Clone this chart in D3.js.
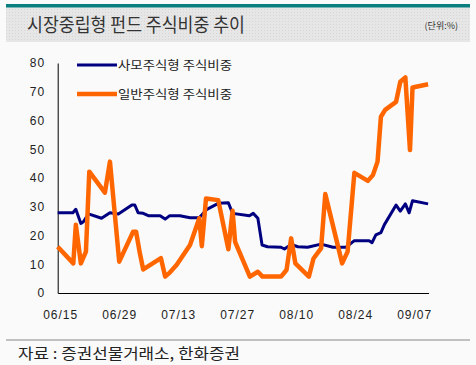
<!DOCTYPE html>
<html>
<head>
<meta charset="utf-8">
<script src="https://cdn.jsdelivr.net/npm/d3@7"></script>
<style>
  body { margin: 0; background: #fafafa; }
  text { font-family: "Noto Sans CJK KR", sans-serif; }
</style>
</head>
<body>
<div id="chart-area"></div>
<script>
// x values are days counted from 06/15
const tickDays = [0, 14, 28, 42, 56, 70, 84];
const tickLabels = ["06/15", "06/29", "07/13", "07/27", "08/10", "08/24", "09/07"];
const yTicks = [0, 10, 20, 30, 40, 50, 60, 70, 80];

// 사모주식형 주식비중
const privateDays = [0, 3.6, 4.3, 5.5, 6.1, 7.3, 10.4, 12.4, 14.4, 17.6, 18.3, 19.1, 20.3, 21.5, 24.3, 25.5, 26.6, 29.0, 31.4, 33.6,
	35.4, 38.1, 40.5, 41.5, 45.5, 46.4, 47.5, 48.5, 49.8, 53.0, 53.8, 55.4, 57.0, 59.3, 62.5, 65.3, 68.4, 70.4, 73.9, 74.6,
	75.5, 76.7, 77.5, 80.3, 81.3, 82.5, 83.4, 84.2, 87.9];
const privateValues = [27.9, 27.9, 29.1, 24.2, 24.8, 27.5, 26.0, 27.9, 27.5, 30.6, 30.6, 27.9, 27.7, 26.9, 26.9, 25.7, 26.9, 26.9, 26.2, 26.2,
	29.1, 31.2, 31.4, 27.7, 26.9, 27.7, 26.0, 16.7, 16.1, 15.9, 15.3, 16.9, 16.1, 15.9, 17.0, 15.9, 15.9, 18.2, 18.2, 17.5,
	20.2, 21.0, 23.7, 30.6, 28.5, 31.0, 27.9, 32.1, 31.0];

// 일반주식형 주식비중
const publicDays = [0, 3.7, 4.3, 5.5, 6.7, 7.5, 11.2, 12.4, 14.6, 17.9, 18.6, 19.5, 20.3, 24.5, 25.5, 26.6, 28.2, 31.4, 33.6, 34.2,
	35.2, 38.1, 40.5, 41.5, 42.1, 45.6, 47.5, 48.6, 53.0, 54.3, 55.4, 56.4, 59.6, 60.7, 62.5, 63.5, 67.5, 68.8, 70.4, 73.6,
	74.8, 75.9, 76.7, 77.7, 80.3, 81.3, 82.5, 83.6, 84.2, 87.9];
const publicValues = [16.1, 10.3, 23.7, 10.3, 14.4, 42.2, 34.9, 45.7, 10.9, 21.3, 21.3, 13.8, 8.2, 12.1, 5.7, 7.1, 9.7, 16.7, 26.0, 16.3,
	32.9, 32.3, 15.2, 28.6, 17.8, 5.7, 7.4, 5.7, 5.7, 8.0, 19.0, 10.3, 5.7, 12.0, 15.5, 34.4, 10.3, 14.4, 41.8, 39.0,
	41.0, 45.7, 61.3, 63.7, 66.5, 73.5, 75.0, 49.7, 71.5, 72.6];

const seriesNames = ["사모주식형 주식비중", "일반주식형 주식비중"];
const seriesColors = ["#000080", "#ff6600"];
const seriesWidths = [3, 4.5];

const W = 476, H = 365;
const svg = d3.select("#chart-area").append("svg")
	.attr("width", W)
	.attr("height", H);

svg.append("rect").attr("width", W).attr("height", H).attr("fill", "#fafafa");

// header band
const defs = svg.append("defs");
const pat = defs.append("pattern")
	.attr("id", "hatch")
	.attr("width", 3).attr("height", 3)
	.attr("patternUnits", "userSpaceOnUse");
pat.append("rect").attr("width", 3).attr("height", 3).attr("fill", "#e6e6e6");
pat.append("rect").attr("width", 1).attr("height", 1).attr("fill", "#d6d6d6");

svg.append("rect").attr("x", 6).attr("y", 7).attr("width", 464).attr("height", 35).attr("fill", "url(#hatch)");
svg.append("rect").attr("x", 6).attr("y", 4).attr("width", 464).attr("height", 3.5).attr("fill", "#0b7f7f");

svg.append("text")
	.attr("x", 27).attr("y", 32)
	.attr("font-size", "19px")
	.attr("fill", "#333")
	.attr("textLength", 218)
	.attr("lengthAdjust", "spacingAndGlyphs")
	.text("시장중립형 펀드 주식비중 추이");

svg.append("text")
	.attr("x", 458).attr("y", 28.5)
	.attr("font-size", "9px")
	.attr("text-anchor", "end")
	.attr("fill", "#333")
	.text("(단위:%)");

// scales
const x = d3.scaleLinear().domain([0, 88]).range([57.7, 57.7 + 88 * 4.214]);
const y = d3.scaleLinear().domain([0, 80]).range([293, 63]);

const xAxisCall = d3.axisBottom(x)
	.tickValues(tickDays)
	.tickFormat((d, i) => tickLabels[i])
	.tickSize(0)
	.tickSizeOuter(0)
	.tickPadding(17);
const xg = svg.append("g")
	.attr("transform", `translate(0, ${y(0)})`)
	.call(xAxisCall);
xg.select(".domain").attr("stroke", "#000");
xg.selectAll("text")
	.attr("dx", 2.5)
	.attr("font-size", "12px")
	.attr("letter-spacing", "1px")
	.attr("fill", "#222")
	.style("font-family", "'Liberation Sans', Arial, sans-serif");

const yAxisCall = d3.axisLeft(y)
	.tickValues(yTicks)
	.tickSize(0)
	.tickSizeOuter(0)
	.tickPadding(12.5);
const yg = svg.append("g")
	.attr("transform", `translate(${x(0)}, 0)`)
	.call(yAxisCall);
yg.select(".domain").attr("stroke", "#000");
yg.selectAll("text")
	.attr("font-size", "12px")
	.attr("letter-spacing", "1px")
	.attr("fill", "#222")
	.style("font-family", "'Liberation Sans', Arial, sans-serif");

// lines
const line = d3.line()
	.x(d => x(d[0]))
	.y(d => y(d[1]));

const series = [
	d3.zip(privateDays, privateValues),
	d3.zip(publicDays, publicValues)
];

svg.selectAll(".series")
	.data(series)
	.enter()
	.append("path")
	.attr("class", "series")
	.attr("d", line)
	.attr("fill", "none")
	.attr("stroke", (d, i) => seriesColors[i])
	.attr("stroke-width", (d, i) => seriesWidths[i])
	.attr("stroke-linejoin", "round");

// legend
const legend = svg.selectAll(".legend")
	.data(seriesNames)
	.enter()
	.append("g")
	.attr("class", "legend")
	.attr("transform", (d, i) => `translate(77, ${65 + i * 29})`);
legend.append("line")
	.attr("x1", 0).attr("x2", 40)
	.attr("stroke", (d, i) => seriesColors[i])
	.attr("stroke-width", (d, i) => seriesWidths[i]);
legend.append("text")
	.attr("x", 41)
	.attr("y", 4.5)
	.attr("font-size", "12.5px")
	.attr("fill", "#222")
	.attr("textLength", 114)
	.attr("lengthAdjust", "spacingAndGlyphs")
	.text(d => d);

// footer
svg.append("rect").attr("x", 6).attr("y", 339).attr("width", 464).attr("height", 2).attr("fill", "#c0c0c0");
svg.append("text")
	.attr("x", 18).attr("y", 359)
	.attr("font-size", "15px")
	.attr("fill", "#222")
	.attr("textLength", 222)
	.attr("lengthAdjust", "spacingAndGlyphs")
	.text("자료 : 증권선물거래소, 한화증권");
</script>
</body>
</html>
